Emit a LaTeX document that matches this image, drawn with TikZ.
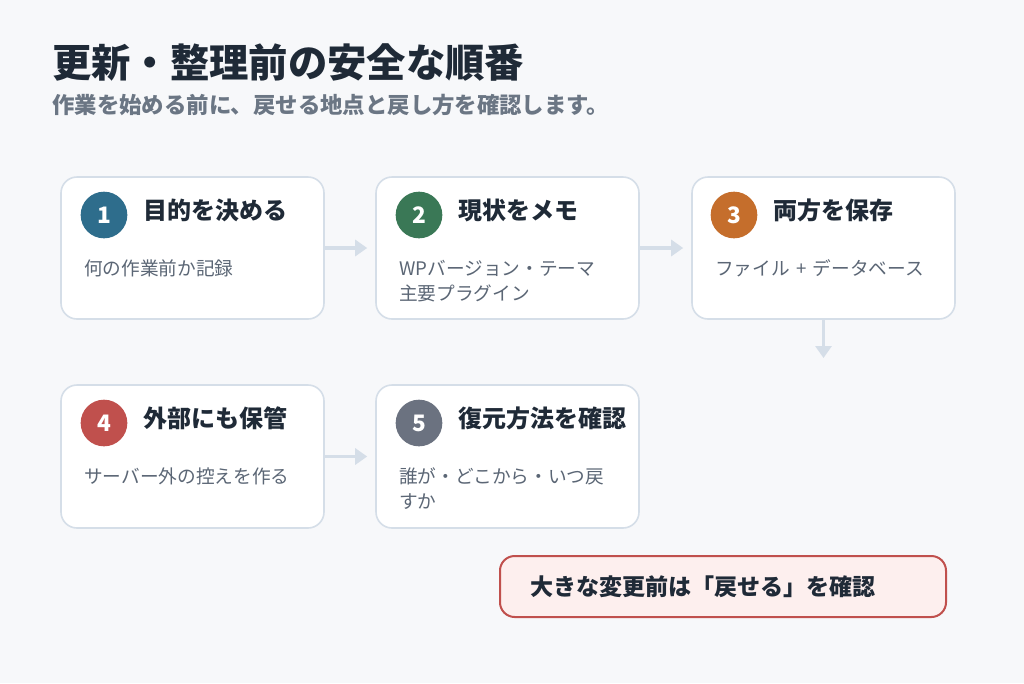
\documentclass[tikz,border=0pt]{standalone}
\usepackage{fontspec}
\setmainfont[WordSpace=1.5]{Noto Sans CJK JP}
\usepackage{xcolor}
\usepackage{tikz}
\usetikzlibrary{arrows.meta,positioning}
\definecolor{rbpage}{HTML}{F7F8FA}
\definecolor{rbedge}{HTML}{D5DEE8}
\definecolor{rbink}{HTML}{1F2A37}
\definecolor{rbmuted}{HTML}{5B6675}
\definecolor{rbsub}{HTML}{6B7684}
\definecolor{rbblue}{HTML}{2E6D8C}
\definecolor{rbgreen}{HTML}{3A7856}
\definecolor{rborange}{HTML}{C56E2C}
\definecolor{rbred}{HTML}{C0504D}
\definecolor{rbgray}{HTML}{6B7280}
\definecolor{rbwarn}{HTML}{FDEFEE}
\tikzset{
rbcard/.style={rectangle,rounded corners=12pt,draw=rbedge,fill=white,line width=1.2pt,minimum width=197.25pt,minimum height=106.5pt,inner sep=0pt},
rbnum/.style={circle,minimum size=35pt,inner sep=0pt,text=white,font=\bfseries\fontsize{17}{17}\selectfont},
rbhead/.style={anchor=west,inner sep=0pt,text=rbink,font=\bfseries\fontsize{18}{20}\selectfont},
rbnote/.style={anchor=base west,inner sep=0pt,align=left,text=rbmuted,font=\fontsize{14}{18.75}\selectfont},
rbtitle/.style={anchor=west,inner sep=0pt,text=rbink,font=\bfseries\fontsize{29.5}{32}\selectfont},
rbsubtitle/.style={anchor=west,inner sep=0pt,text=rbsub,font=\bfseries\fontsize{16.8}{18}\selectfont},
rbcallout/.style={rectangle,rounded corners=11pt,draw=rbred,fill=rbwarn,line width=1.5pt,align=left,text width=289.5pt,inner xsep=22.5pt,inner ysep=0pt,minimum height=45.75pt,text=rbink,font=\bfseries\fontsize{17.3}{20}\selectfont},
rbarr/.style={-{Triangle[length=9pt,width=12pt]},line width=2.4pt,draw=rbedge,shorten >=6pt}
}

\begin{document}
\begin{tikzpicture}[
x=0.75pt,
y=-0.75pt
]
\fill[rbpage] (0,0) rectangle (1024,683);
\node[rbtitle] (title) at (52,62) {更新・整理前の安全な順番};
\node[rbsubtitle] (subtitle) at (52,105) {作業を始める前に、戻せる地点と戻し方を確認します。};
% first row
\node[rbcard] (purpose) at (192.5,248) {};
\node[rbcard] (memo) at (507.5,248) {};
\node[rbcard] (save) at (823.5,248) {};
\node[rbnum,fill=rbblue] (purposenum) at (104,215) {1};
\node[rbnum,fill=rbgreen] (memonum) at (419,215) {2};
\node[rbnum,fill=rborange] (savenum) at (734,215) {3};
\node[rbhead] (purposehead) at (143,210) {目的を決める};
\node[rbhead] (memohead) at (458,210) {現状をメモ};
\node[rbhead] (savehead) at (773,210) {両方を保存};
\node[rbnote] (purposenote) at (84,275) {何の作業前か記録};
\node[rbnote] (memonote) at (399,300) {WPバージョン・テーマ\\主要プラグイン};
\node[rbnote] (savenote) at (715,275) {ファイル + データベース};
% second row
\node[rbcard,minimum height=107.25pt] (offsite) at (192.5,456.5) {};
\node[rbcard,minimum height=107.25pt] (restore) at (507.5,456.5) {};
\node[rbnum,fill=rbred] (offsitenum) at (104,423) {4};
\node[rbnum,fill=rbgray] (restorenum) at (419,423) {5};
\node[rbhead] (offsitehead) at (143,418) {外部にも保管};
\node[rbhead] (restorehead) at (458,418) {復元方法を確認};
\node[rbnote] (offsitenote) at (84,483) {サーバー外の控えを作る};
\node[rbnote] (restorenote) at (399,508) {誰が・どこから・いつ戻\\すか};
\node[rbcallout] (callout) at (723,586.5) {大きな変更前は「戻せる」を確認};
\coordinate (savedown) at (823.5,366);
\draw[rbarr] (purpose)--(memo);
\draw[rbarr] (memo)--(save);
\draw[rbarr] (save)--(savedown);
\draw[rbarr] (offsite)--(restore);
\end{tikzpicture}
\end{document}
